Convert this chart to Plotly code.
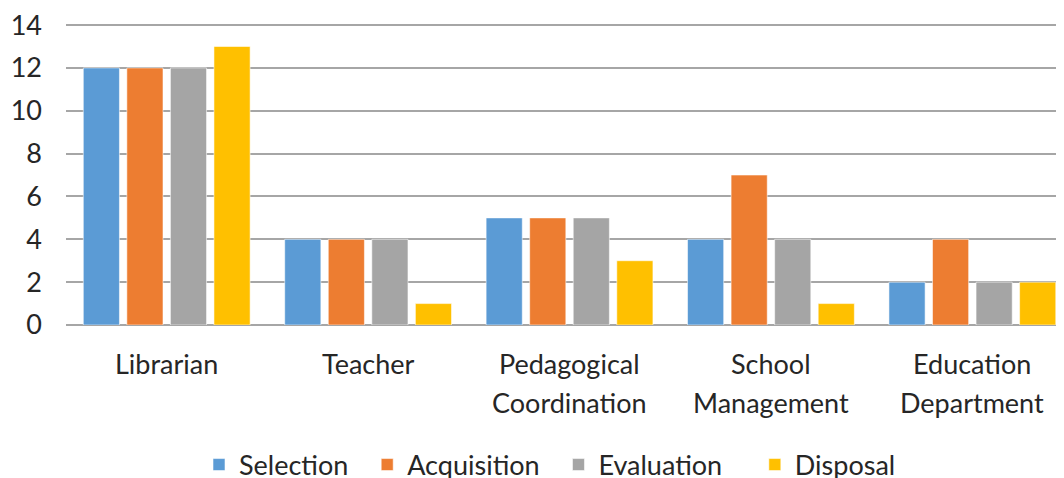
import plotly.graph_objects as go

categories = ["Librarian", "Teacher", "Pedagogical Coordination", "School Management", "Education Department"]
label_line1 = ["Librarian", "Teacher", "Pedagogical", "School", "Education"]
label_line2 = ["", "", "Coordination", "Management", "Department"]
series_names = ["Selection", "Acquisition", "Evaluation", "Disposal"]
selection = [12, 4, 5, 4, 2]
acquisition = [12, 4, 5, 7, 4]
evaluation = [12, 4, 5, 4, 2]
disposal = [13, 1, 3, 1, 2]
colors = ["#5B9BD5", "#ED7D31", "#A5A5A5", "#FFC000"]
y_ticks = [0, 2, 4, 6, 8, 10, 12, 14]

FONT = "Lato"
FS = 27
TXT = "#262626"
legend_pad = [2, 2, 4, 0]  # trailing no-break spaces to space legend entries

fig = go.Figure()
for name, vals, col, pad in zip(series_names, [selection, acquisition, evaluation, disposal], colors, legend_pad):
    fig.add_trace(go.Bar(
        x=categories, y=vals, name=name + "\u00a0" * pad,
        marker=dict(color=col, line=dict(color="rgba(255,255,255,0.55)", width=1)),
    ))

for cat, l1, l2 in zip(categories, label_line1, label_line2):
    fig.add_annotation(x=cat, xref="x", y=-0.127, yref="paper", text=l1,
                       showarrow=False, yanchor="middle", xanchor="center",
                       font=dict(family=FONT, size=FS, color=TXT))
    if l2:
        fig.add_annotation(x=cat, xref="x", y=-0.257, yref="paper", text=l2,
                           showarrow=False, yanchor="middle", xanchor="center",
                           font=dict(family=FONT, size=FS, color=TXT))

fig.update_layout(
    width=1064, height=478,
    margin=dict(l=58, r=8, t=16, b=161, autoexpand=False),
    paper_bgcolor="white", plot_bgcolor="white",
    barmode="group", bargap=0.135, bargroupgap=0.17,
    font=dict(family=FONT, size=FS, color=TXT),
    showlegend=True,
    legend=dict(orientation="h", x=542 / 1064, xanchor="center", xref="container",
                y=1 - 457 / 478, yanchor="middle", yref="container",
                font=dict(family=FONT, size=FS, color=TXT),
                itemwidth=30, traceorder="normal"),
    xaxis=dict(range=[-0.5, 4.455], showticklabels=False, showgrid=False,
               showline=False, ticks="", zeroline=False, automargin=False),
    yaxis=dict(range=[0, 14.05], tickvals=y_ticks, showgrid=True, gridcolor="#A6A6A6",
               gridwidth=1.5, zeroline=True, zerolinecolor="#A6A6A6", zerolinewidth=1.5,
               showline=False, ticks="", ticklabelstandoff=23, automargin=False,
               ticklabeloverflow="allow",
               tickfont=dict(family=FONT, size=FS, color=TXT)),
)

fig.write_html("out.html")
